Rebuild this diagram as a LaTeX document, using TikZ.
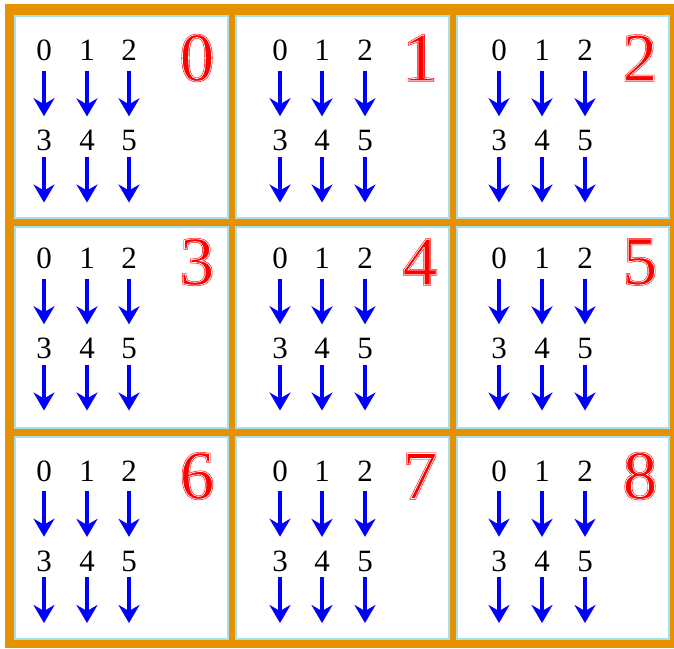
\documentclass[tikz,border=0pt]{standalone}
\usepackage{fontspec}
\setmainfont{Liberation Serif}
\usetikzlibrary{arrows.meta}
\definecolor{frameorange}{RGB}{229,145,0}
\definecolor{celledge}{RGB}{165,224,238}
\definecolor{flowblue}{RGB}{0,0,255}
% outlined red numeral: red fill+stroke, then a thin white stroke on the glyph outline
\newcommand{\redlayer}[1]{\special{pdf:literal direct 2 Tr 0.9 w 1 0 0 RG}#1\special{pdf:literal direct 0 Tr}}
\newcommand{\whitelayer}[1]{\special{pdf:literal direct 1 Tr 0.35 w 1 1 1 RG}#1\special{pdf:literal direct 0 Tr}}
\tikzset{
  cellbox/.style={draw=celledge, fill=white, line width=0.6pt},
  smalldigit/.style={inner sep=0pt, font=\fontsize{15.5}{15.5}\selectfont, text=black},
  bigdigit/.style={inner sep=0pt, font=\fontsize{34.5}{34.5}\selectfont, text=red},
  flow/.style={draw=flowblue, line width=1.6pt,
    -{Stealth[length=9pt,width=10.5pt,inset=3pt]}},
}
\begin{document}
\begin{tikzpicture}[x=0.5pt,y=-0.5pt]
  \useasboundingbox (0,0) rectangle (674,648);
  % orange frame
  \fill[frameorange] (5,4) rectangle (674,648);
  \foreach \r/\ty/\ry/\top/\bot in {0/50.5/58/16/218, 1/258.5/262/227/428, 2/471/476/437/639}{
    \foreach \c/\left/\right/\xa/\xb/\xc/\rx in {0/15/228/44/87/129/197, 1/236/449/280/322/365/420, 2/457/669/499/542/585/640}{
      \pgfmathtruncatemacro{\k}{3*\r+\c}
      \draw[cellbox] (\left,\top) rectangle (\right,\bot);
      % cell number
      \node[bigdigit] (n\k) at (\rx,\ry) {\redlayer{\k}};
      \node[bigdigit] at (n\k) {\whitelayer{\k}};
      % three columns of digits with arrows
      \foreach \j/\x in {0/\xa, 1/\xb, 2/\xc}{
        \pgfmathtruncatemacro{\m}{\j+3}
        \node[smalldigit] (u\k-\j) at (\x,\ty) {\j};
        \node[smalldigit] (l\k-\j) at (\x,\ty+90) {\m};
        \coordinate (e\k-\j) at (\x,\ty+152);
        \draw[flow, shorten <=4.75pt, shorten >=6.75pt] (u\k-\j) -- (l\k-\j);
        \draw[flow, shorten <=2.75pt] (l\k-\j) -- (e\k-\j);
      }
    }
  }
\end{tikzpicture}
\end{document}
